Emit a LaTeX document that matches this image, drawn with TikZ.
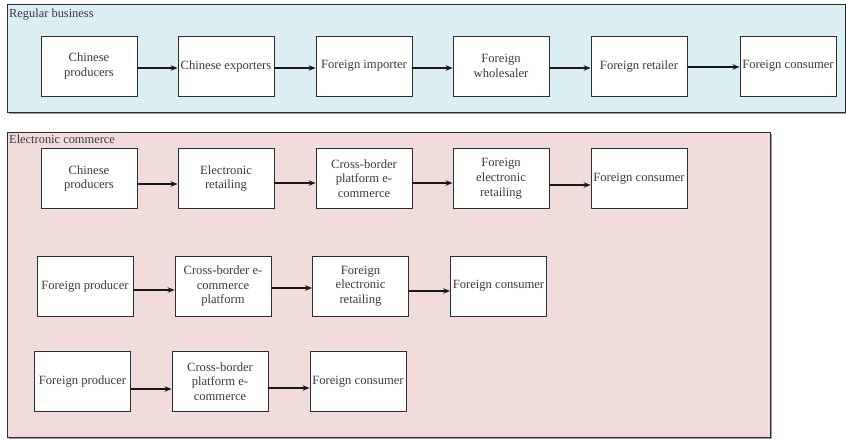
\documentclass[tikz,border=0pt]{standalone}
\usepackage{fontspec}
\setmainfont{Liberation Serif}
\usetikzlibrary{arrows.meta}
\definecolor{bluefill}{HTML}{DAEEF3}
\definecolor{pinkfill}{HTML}{F2DCDB}
\definecolor{txt}{HTML}{3A3A3A}
\definecolor{edge}{HTML}{2E2E2E}
\tikzset{
  panel/.style={draw=edge, line width=0.8pt},
  shadowline/.style={draw=black!45, line width=1.2pt},
  stepbox/.style={draw=edge, fill=white, line width=0.8pt, minimum width=96pt, minimum height=60pt,
    inner sep=0pt, align=center, text=txt, font=\fontsize{12.6}{14.7}\selectfont,
    append after command={[shadowline]
      (\tikzlastnode.north east) ++(0.8pt,-1pt) -- ([xshift=0.8pt,yshift=-0.8pt]\tikzlastnode.south east) -- ++(-96pt,0)}},
  paneltitle/.style={anchor=base west, inner sep=0pt, text=txt, font=\fontsize{12.4}{14.5}\selectfont},
  arr/.style={draw=black!90, line width=1.8pt, -{Stealth[length=7pt,width=5.5pt]}}
}
\begin{document}
\begin{tikzpicture}[x=1pt,y=-1pt]
\useasboundingbox (0,0) rectangle (846,440);
% panels
\fill[black!40] (9,6) rectangle (847,114);
\filldraw[panel, fill=bluefill] (7,4) rectangle (845,112);
\fill[black!40] (9,134) rectangle (772,439);
\filldraw[panel, fill=pinkfill] (7,132) rectangle (770,437);
\node[paneltitle] (t1) at (9,17) {Regular business};
\node[paneltitle] (t2) at (9,143) {Electronic commerce};
% regular business row
\node[stepbox] (r1) at (89,66) {Chinese\\producers};
\node[stepbox] (r2) at (226,66) {Chinese exporters};
\node[stepbox] (r3) at (364,66) {Foreign importer};
\node[stepbox] (r4) at (501,66) {Foreign\\wholesaler};
\node[stepbox] (r5) at (639,66) {Foreign retailer};
\node[stepbox] (r6) at (788,66) {Foreign consumer};
\draw[arr] ([yshift=-2pt]r1.east) -- ([yshift=-2pt]r2.west);
\draw[arr] ([yshift=-2pt]r2.east) -- ([yshift=-2pt]r3.west);
\draw[arr] ([yshift=-2pt]r3.east) -- ([yshift=-2pt]r4.west);
\draw[arr] ([yshift=-2pt]r4.east) -- ([yshift=-2pt]r5.west);
\draw[arr] ([yshift=-1pt]r5.east) -- ([yshift=-1pt]r6.west);
% e-commerce row 1
\node[stepbox] (a1) at (89,178.5) {Chinese\\producers};
\node[stepbox] (a2) at (226,178.5) {Electronic\\retailing};
\node[stepbox] (a3) at (364,178.5) {Cross-border\\platform e-\\commerce};
\node[stepbox] (a4) at (501,178.5) {Foreign\\electronic\\retailing};
\node[stepbox] (a5) at (639,178.5) {Foreign consumer};
\draw[arr] ([yshift=-5.5pt]a1.east) -- ([yshift=-5.5pt]a2.west);
\draw[arr] ([yshift=-4.5pt]a2.east) -- ([yshift=-4.5pt]a3.west);
\draw[arr] ([yshift=-4.5pt]a3.east) -- ([yshift=-4.5pt]a4.west);
\draw[arr] ([yshift=-6.5pt]a4.east) -- ([yshift=-6.5pt]a5.west);
% e-commerce row 2
\node[stepbox] (b1) at (85,286) {Foreign producer};
\node[stepbox] (b2) at (223,286) {Cross-border e-\\commerce\\platform};
\node[stepbox] (b3) at (360.5,286) {Foreign\\electronic\\retailing};
\node[stepbox] (b4) at (498.5,286) {Foreign consumer};
\draw[arr] ([yshift=-4pt]b1.east) -- ([yshift=-4pt]b2.west);
\draw[arr] ([yshift=-2pt]b2.east) -- ([yshift=-2pt]b3.west);
\draw[arr] ([yshift=-5pt]b3.east) -- ([yshift=-5pt]b4.west);
% e-commerce row 3
\node[stepbox] (c1) at (82.5,381.5) {Foreign producer};
\node[stepbox] (c2) at (220,381.5) {Cross-border\\platform e-\\commerce};
\node[stepbox] (c3) at (358,381.5) {Foreign consumer};
\draw[arr] ([yshift=-7.5pt]c1.east) -- ([yshift=-7.5pt]c2.west);
\draw[arr] ([yshift=-6.5pt]c2.east) -- ([yshift=-6.5pt]c3.west);
\end{tikzpicture}
\end{document}
